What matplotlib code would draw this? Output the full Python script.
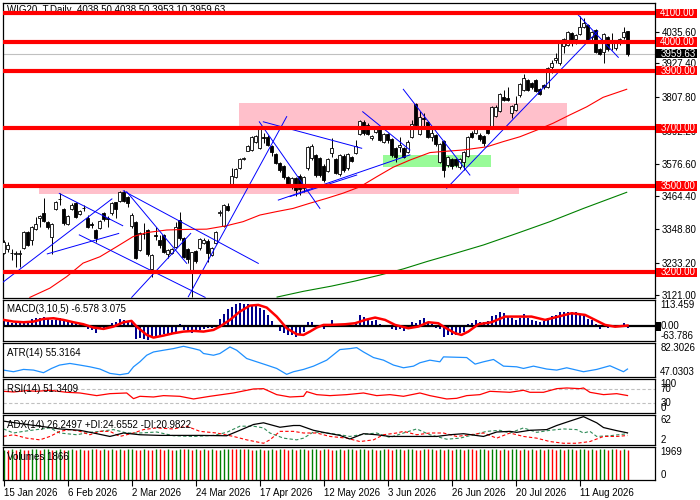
import matplotlib
matplotlib.use("Agg")
import matplotlib.pyplot as plt
from matplotlib.patches import Rectangle
import numpy as np

plt.rcParams['font.family'] = ['Liberation Sans', 'DejaVu Sans']
plt.rcParams['font.size'] = 7

# ---- daily candles WIG20_T ----
opens = [3266, 3280, 3268, 3263, 3265, 3283, 3341, 3312, 3351, 3388,
         3407, 3374, 3324, 3419, 3453, 3420, 3368, 3420, 3440, 3402,
         3423, 3388, 3367, 3347, 3353, 3405, 3387, 3405, 3443, 3449,
         3480, 3463, 3361, 3376, 3278, 3334, 3347, 3210, 3328, 3312,
         3328, 3264, 3268, 3289, 3382, 3318, 3280, 3199, 3273, 3283,
         3301, 3310, 3260, 3301, 3405, 3361, 3432, 3500, 3532, 3563,
         3595, 3623, 3625, 3652, 3633, 3670, 3671, 3639, 3611, 3579,
         3569, 3532, 3500, 3527, 3535, 3492, 3561, 3596, 3607, 3596,
         3570, 3553, 3614, 3593, 3542, 3605, 3561, 3600, 3614, 3681,
         3723, 3712, 3665, 3686, 3698, 3654, 3681, 3664, 3631, 3634,
         3631, 3619, 3669, 3785, 3681, 3735, 3723, 3669, 3677, 3584,
         3657, 3573, 3594, 3593, 3567, 3585, 3604, 3685, 3685, 3677,
         3674, 3698, 3703, 3743, 3762, 3810, 3807, 3752, 3764, 3816,
         3834, 3868, 3859, 3868, 3836, 3851, 3845, 3912, 3938, 3926,
         3986, 3990, 4033, 4010, 4028, 4054, 4059, 4017, 4042, 3975,
         3967, 4017, 4001, 3978, 3996, 4017, 4038.5]
highs = [3312, 3305, 3280, 3275, 3278, 3345, 3345, 3362, 3393, 3400,
         3457, 3380, 3370, 3447, 3475, 3425, 3400, 3440, 3445, 3418,
         3434, 3400, 3376, 3350, 3382, 3410, 3396, 3445, 3446, 3484,
         3486, 3466, 3405, 3380, 3340, 3370, 3350, 3264, 3359, 3329,
         3332, 3280, 3285, 3375, 3411, 3322, 3284, 3272, 3277, 3320,
         3318, 3314, 3287, 3345, 3417, 3437, 3440, 3561, 3562, 3598,
         3600, 3643, 3673, 3678, 3706, 3683, 3676, 3642, 3614, 3583,
         3572, 3536, 3531, 3531, 3540, 3535, 3638, 3645, 3610, 3600,
         3575, 3597, 3665, 3597, 3612, 3610, 3614, 3604, 3660, 3729,
         3729, 3718, 3676, 3710, 3702, 3685, 3685, 3668, 3635, 3671,
         3635, 3658, 3729, 3790, 3760, 3752, 3727, 3697, 3680, 3650,
         3660, 3604, 3598, 3597, 3597, 3623, 3675, 3690, 3710, 3683,
         3677, 3701, 3777, 3780, 3822, 3834, 3843, 3782, 3813, 3857,
         3889, 3872, 3863, 3872, 3840, 3855, 3912, 3938, 3961, 4001,
         4013, 4040, 4036, 4028, 4092, 4082, 4063, 4040, 4046, 3979,
         4032, 4020, 4030, 4005, 4015, 4054, 4038.5]
lows = [3262, 3270, 3243, 3218, 3220, 3280, 3290, 3295, 3348, 3359,
        3375, 3350, 3264, 3415, 3434, 3365, 3365, 3415, 3390, 3398,
        3414, 3355, 3355, 3307, 3350, 3380, 3359, 3400, 3388, 3445,
        3445, 3428, 3355, 3245, 3275, 3316, 3258, 3185, 3312, 3283,
        3268, 3249, 3262, 3285, 3312, 3248, 3231, 3115, 3231, 3278,
        3298, 3237, 3256, 3298, 3395, 3358, 3413, 3495, 3528, 3560,
        3590, 3620, 3620, 3648, 3628, 3648, 3638, 3605, 3575, 3548,
        3525, 3495, 3490, 3465, 3470, 3480, 3555, 3590, 3530, 3530,
        3515, 3548, 3602, 3540, 3535, 3548, 3555, 3582, 3610, 3678,
        3678, 3678, 3660, 3683, 3655, 3650, 3650, 3600, 3585, 3619,
        3596, 3615, 3665, 3708, 3678, 3706, 3665, 3655, 3640, 3580,
        3530, 3567, 3560, 3567, 3560, 3556, 3600, 3665, 3680, 3656,
        3640, 3680, 3700, 3740, 3757, 3795, 3795, 3735, 3760, 3810,
        3830, 3830, 3838, 3826, 3815, 3838, 3841, 3891, 3926, 3922,
        3961, 3986, 3986, 3995, 4024, 4050, 3997, 4005, 3961, 3955,
        3926, 3969, 3972, 3972, 3990, 4010, 3953.1]
closes = [3307, 3295, 3266, 3268, 3266, 3341, 3295, 3359, 3367, 3396,
          3380, 3357, 3367, 3443, 3455, 3370, 3396, 3434, 3393, 3414,
          3424, 3359, 3366, 3318, 3378, 3384, 3386, 3440, 3420, 3480,
          3449, 3440, 3399, 3249, 3336, 3333, 3263, 3260, 3327, 3295,
          3272, 3277, 3280, 3359, 3318, 3252, 3246, 3269, 3241, 3316,
          3313, 3266, 3283, 3341, 3409, 3434, 3417, 3535, 3558, 3595,
          3598, 3639, 3669, 3673, 3702, 3668, 3642, 3619, 3579, 3555,
          3530, 3500, 3527, 3486, 3488, 3530, 3634, 3639, 3538, 3538,
          3521, 3593, 3631, 3544, 3607, 3555, 3610, 3588, 3639, 3725,
          3683, 3681, 3673, 3706, 3660, 3681, 3660, 3608, 3602, 3642,
          3602, 3654, 3715, 3712, 3741, 3733, 3669, 3683, 3646, 3646,
          3556, 3600, 3570, 3573, 3593, 3619, 3671, 3671, 3706, 3662,
          3648, 3685, 3773, 3776, 3818, 3799, 3799, 3778, 3785, 3853,
          3874, 3834, 3843, 3831, 3820, 3843, 3909, 3926, 3944, 3998,
          4010, 4036, 4001, 4025, 4054, 4067, 4001, 4036, 3967, 3959,
          4028, 3975, 4007, 4001, 4010, 4036, 3959.63]
volumes = [1912, 1887, 1945, 1903, 1958, 1921, 1880, 1934, 1969, 1898,
           1927, 1941, 1889, 1915, 1950, 1876, 1908, 1937, 1893, 1962,
           1918, 1884, 1946, 1929, 1901, 1955, 1872, 1939, 1910, 1948,
           1895, 1923, 1960, 1906, 1881, 1944, 1917, 1890, 1952, 1928,
           1899, 1936, 1874, 1913, 1947, 1925, 1958, 1886, 1931, 1904,
           1942, 1919, 1951, 1878, 1909, 1933, 1966, 1945, 1927, 1954,
           1938, 1961, 1902, 1921, 1949, 1893, 1914, 1940, 1884, 1957,
           1925, 1890, 1943, 1911, 1932, 1956, 1904, 1937, 1962, 1918,
           1946, 1929, 1880, 1917, 1951, 1899, 1926, 1948, 1909, 1935,
           1958, 1921, 1944, 1897, 1913, 1950, 1928, 1886, 1939, 1964,
           1907, 1931, 1954, 1916, 1882, 1940, 1923, 1959, 1901, 1937,
           1918, 1952, 1889, 1930, 1947, 1911, 1961, 1934, 1895, 1926,
           1949, 1915, 1938, 1957, 1904, 1929, 1891, 1944, 1966, 1920,
           1933, 1898, 1953, 1922, 1940, 1907, 1955, 1928, 1884, 1946,
           1912, 1937, 1960, 1903, 1925, 1950, 1918, 1942, 1894, 1931,
           1955, 1910, 1943, 1926, 1899, 1948, 1866]

date_bars = [0, 16, 32, 48, 64, 80, 96, 112, 128, 144]
date_labels = ["15 Jan 2026", "6 Feb 2026", "2 Mar 2026", "24 Mar 2026", "17 Apr 2026",
               "12 May 2026", "3 Jun 2026", "26 Jun 2026", "20 Jul 2026", "11 Aug 2026"]

# levels, zones, moving averages, trend lines (chart objects)
levels = [4100, 4000, 3900, 3700, 3500, 3200]
last_price = 3959.63
price_ticks = [4035.60, 3927.40, 3807.80, 3692.20, 3576.60, 3464.40, 3348.80, 3233.20, 3121.00]

zone_bar0 = [58.9, 8.9, 94.9]
zone_bar1 = [140.9, 128.8, 121.8]
zone_low = [3700, 3473, 3567]
zone_high = [3789, 3500, 3607]
zone_color = ['#FFC0CB', '#FFC0CB', '#98FB98']

ma_fast_bars = [6.6, 11.6, 15.8, 19.9, 24.1, 28.3, 32.4, 35.8, 40.8, 45.8, 50.8, 55.8, 59.9, 64.1,
                68.3, 72.4, 76.6, 80.8, 84.9, 89.1, 93.3, 97.4, 101.6, 106.6, 109.1, 114.9, 120.8,
                124.9, 129.1, 133.3, 137.4, 141.6, 145.8, 149.9, 155.8]
ma_fast_vals = [3113, 3145, 3185, 3232, 3254, 3289, 3324, 3338, 3347, 3349, 3350, 3362, 3376, 3399,
                3411, 3422, 3440, 3457, 3475, 3497, 3532, 3565, 3590, 3616, 3619, 3625, 3636,
                3654, 3671, 3694, 3718, 3747, 3775, 3808, 3836]
ma_slow_bars = [68.4, 75, 82, 88, 94, 100, 106, 112, 120, 128.3, 136.6, 145, 155.8]
ma_slow_vals = [3114, 3134, 3152, 3170, 3190, 3212, 3238, 3262, 3295, 3335, 3376, 3422, 3478]

tl_bar0 = [-0.1, 13.95, 10.95, 18.95, 29.95, 30.8, 32.05, 46.2, 63.95, 64.95, 68.7, 71.6, 89.8, 99.95, 110.8, 143.7]
tl_price0 = [3166, 3474, 3264, 3330, 3483, 3480, 3113, 3115, 3723, 3723, 3451, 3463, 3758, 3836, 3492, 4094]
tl_bar1 = [27.1, 29.8, 28.8, 50.4, 63.7, 45.8, 46.8, 70.8, 79.1, 89.55, 101.6, 88.3, 101.6, 116.6, 148.6, 153.7]
tl_price1 = [3455, 3362, 3335, 3113, 3231, 3231, 3335, 3741, 3422, 3631, 3608, 3538, 3625, 3538, 4038, 3947]

# ---- indicators ----
macd_main = [27, 20, 13, 17, 17, 20, 20, 32, 35, 37,
             42, 32, 27, 27, 37, 27, 20, 23, 17, 13,
             9, -12, -16, -30, -13, -9, -6, 13, 17, 32,
             27, 23, 17, -55, -49, -55, -58, -52, -45, -37,
             -35, -37, -30, -23, 9, -16, -23, -29, -26, -16,
             -12, -9, -6, 6, 32, 52, 75, 85, 95, 99,
             95, 95, 92, 89, 81, 71, 49, 23, -1, -20,
             -30, -37, -40, -45, -35, -23, 17, 20, -1, 3,
             -12, 0, 26, 9, 6, 3, 6, 6, 20, 49,
             42, 27, 23, 27, 9, 6, 3, -12, -17, -12,
             -20, -9, 17, 13, 27, 35, 17, 9, -6, -12,
             -48, -40, -40, -37, -30, -23, 9, 13, 27, 20,
             20, 23, 46, 49, 60, 56, 46, 35, 27, 35,
             52, 37, 27, 23, 17, 23, 37, 46, 49, 60,
             60, 63, 63, 60, 52, 46, 32, 27, 9, -12,
             3, -6, 0, -1, 0, 13, -6.578]
macd_sig_bars = [0, 2.5, 5, 7.5, 10, 12.5, 15, 17.5, 20, 22.5, 25, 27.5, 30, 32, 33.3, 35.8, 37.5, 40,
                 42.5, 45, 47.5, 50, 52.5, 54.1, 56.6, 59.1, 61.6, 63.7, 65.8, 68.3, 70.8, 73.3, 75,
                 76.6, 78.3, 80, 81.6, 85.4, 87.9, 90.4, 92.9, 95.4, 97.9, 101.2, 103.7, 106.2, 108.7,
                 110.4, 112.9, 114.5, 116.2, 118.7, 122, 125.4, 128.7, 132, 135.4, 138.7, 142, 145.4,
                 147.9, 150.4, 152.9, 156]
macd_sig_vals = [27.4, 20.2, 17.3, 20.2, 31.7, 34.6, 27.4, 17.3, 8.6, -5.8, -11.5, -1.4, 17.3, 23.1,
                 -1.4, -37.5, -49.0, -40.3, -30.3, -23.1, -20.2, -23.1, -15.9, -1.4, 27.4, 63.4, 89.3,
                 92.2, 80.7, 41.8, -8.6, -34.6, -37.5, -23.1, -5.8, 5.8, 5.8, 8.6, 13.0, 27.4, 37.5,
                 27.4, 5.8, -8.6, -1.4, 17.3, 13.0, -5.8, -30.3, -37.5, -23.1, 8.6, 17.3, 41.8, 41.8,
                 41.8, 27.4, 41.8, 56.2, 49.0, 27.4, 5.8, -2.0, 3.075]

atr_bars = [0, 2.5, 5, 7.5, 10, 12, 14, 16.6, 19.1, 21.6, 24.1, 26.6, 29.1, 31.2, 32.5, 34.1, 35.8,
            37.5, 40, 42.5, 45, 47.5, 49.1, 50, 52.5, 54.1, 56.6, 58.3, 60.8, 63.3, 65.8, 68.3, 70.8,
            72.5, 75, 77.5, 80.8, 84.1, 86.6, 88.3, 90, 92.5, 95, 97.5, 100, 102.5, 104.1, 106.6,
            109.1, 110, 115.8, 117.9, 120, 122.5, 125, 128.3, 130, 132.5, 135.8, 138.3, 140.8, 145,
            148.3, 151.6, 155, 156]
atr_vals = [54.2, 52.5, 54.9, 54.2, 51.5, 55.9, 59.4, 61.1, 59.4, 57.6, 55.3, 50.8, 49.4, 50.8, 57.6,
            62.8, 69.6, 73.0, 74.8, 76.5, 78.9, 76.5, 74.8, 71.4, 69.6, 71.4, 78.2, 74.8, 66.2, 62.8,
            59.4, 55.9, 49.8, 52.5, 54.9, 58.3, 64.5, 75.5, 76.5, 77.5, 73.0, 67.2, 64.5, 59.4, 56.6,
            58.3, 61.8, 64.5, 62.8, 67.9, 67.2, 60.4, 62.8, 65.2, 58.3, 57.6, 55.9, 58.3, 55.3, 54.2,
            56.6, 52.5, 54.9, 58.7, 52.5, 55.3]

rsi_bars = [0, 2.5, 5.8, 8.3, 11.6, 15.8, 19.1, 23.3, 26.6, 30.8, 32.5, 34.1, 37.5, 40, 44.1, 47.5,
            51.6, 57.5, 62.5, 65, 68.3, 71.6, 75, 75.8, 78.3, 81.6, 85.8, 90, 93.3, 96.6, 100, 104.1,
            106.6, 110.8, 113.3, 115.8, 119.1, 121.6, 126.6, 130, 131.6, 135, 138.3, 140.8, 144.1,
            145, 146.6, 150, 153.3, 156]
rsi_vals = [63.8, 61.8, 65.8, 63.8, 66.8, 60.9, 58.9, 51.1, 56.9, 58.9, 42.2, 49.1, 47.1, 51.1, 49.1,
            41.3, 49.1, 58.9, 70.7, 71.6, 54.0, 47.1, 49.1, 62.8, 54.0, 51.1, 54.0, 58.9, 51.1, 54.0,
            49.1, 58.9, 51.1, 41.3, 43.2, 51.1, 54.0, 63.8, 60.9, 66.8, 60.9, 60.9, 71.6, 73.6, 71.6,
            73.6, 60.9, 54.0, 56.9, 51.34]

adx_bars = [0, 4.1, 9.1, 14.1, 19.1, 22.5, 26.6, 30, 34.1, 39.1, 44.1, 49.1, 55.8, 59.1, 62.5, 65,
            69.1, 72.5, 74.1, 77.5, 80.8, 84.1, 86.6, 90, 93.3, 96.6, 103.3, 108.3, 111.6, 115, 120,
            123.3, 126.6, 128.3, 131.6, 135.8, 138.3, 141.6, 145, 148.3, 150, 153.3, 156]
adx_vals = [49.8, 45.0, 39.6, 34.1, 31.4, 26.0, 19.1, 26.0, 22.5, 21.2, 21.2, 21.2, 20.5, 31.4, 43.0,
            46.4, 37.5, 41.0, 41.0, 31.4, 26.0, 21.2, 14.0, 24.6, 22.5, 19.1, 19.1, 19.1, 22.5, 24.6,
            19.1, 28.0, 29.3, 27.3, 31.4, 32.8, 41.0, 49.8, 58.7, 46.4, 36.9, 30.7, 26.25]
pdi_bars = [0, 2.5, 5, 8.3, 11.6, 14.1, 18.3, 21.6, 24.1, 27.5, 30.8, 34.1, 38.3, 42.5, 47.5, 52.5,
            55.8, 59.1, 62.5, 65, 66.6, 70, 73.3, 75, 77.5, 80.8, 84.1, 86.6, 89.1, 93.3, 96.6, 100,
            103.3, 106.6, 110.8, 114.1, 117.5, 120.8, 124.1, 126.6, 130, 133.3, 136.6, 140, 143.3,
            145, 146.6, 148.3, 151.6, 156]
pdi_vals = [34.1, 26.0, 29.3, 32.8, 36.2, 26.0, 22.5, 27.3, 29.3, 32.8, 26.0, 26.0, 28.0, 20.5, 19.1,
            21.2, 27.3, 39.6, 39.6, 36.2, 26.0, 15.7, 12.3, 15.7, 28.0, 26.0, 22.5, 19.1, 22.5, 26.0,
            17.1, 26.0, 34.1, 22.5, 13.6, 15.7, 22.5, 29.3, 31.4, 26.0, 36.2, 27.3, 31.4, 34.1, 32.8,
            26.0, 29.3, 19.1, 20.5, 24.66]
mdi_bars = [0, 2.5, 5.8, 9.1, 11.6, 14.1, 16.6, 19.1, 21.6, 24.1, 26.6, 29.1, 32.5, 35, 38.3, 42.5,
            45.8, 49.1, 53.3, 57.5, 60.8, 65, 66.6, 69.1, 72.5, 75, 78.3, 81.6, 85.8, 89.1, 92.5, 95,
            98.3, 100, 103.3, 106.6, 110, 113.3, 116.6, 120, 123.3, 126.6, 130, 133.3, 136.6, 140,
            143.3, 146.6, 150, 153.3, 156]
mdi_vals = [19.1, 22.5, 15.7, 12.3, 19.1, 29.3, 32.8, 29.3, 22.5, 29.3, 29.3, 19.1, 26.0, 32.8, 36.2,
            34.1, 39.6, 29.3, 26.0, 19.1, 12.3, 5.5, 12.3, 29.3, 29.3, 26.0, 26.0, 19.1, 15.7, 8.9,
            12.3, 22.5, 26.0, 29.3, 22.5, 26.0, 26.0, 19.1, 22.5, 26.0, 15.7, 26.0, 19.1, 15.7, 8.9,
            5.5, 5.5, 8.9, 19.1, 19.1, 20.98]

o = np.array(opens, float)
h = np.array(highs, float)
l = np.array(lows, float)
c = np.array(closes, float)
x = np.arange(len(c))

fig = plt.figure(figsize=(7, 5), dpi=100)
fig.patch.set_facecolor('white')


def panel(top, bottom):
    a = fig.add_axes([3 / 700, 1 - bottom / 500, 652 / 700, (bottom - top) / 500])
    a.set_xlim(-0.125, 162.875)
    for s in a.spines.values():
        s.set_linewidth(0.9)
        s.set_color('black')
    a.tick_params(axis='x', bottom=False, labelbottom=False)
    a.tick_params(axis='y', left=False, labelleft=False, right=False, labelright=False)
    return a


def side(a, y, s, va='center', **kw):
    a.text(1.008, y, s, transform=a.get_yaxis_transform(), ha='left', va=va,
           fontsize=7, clip_on=False, **kw)


def title(a, hpx, s):
    a.text(0.006, 1 - 9.5 / hpx, s, transform=a.transAxes, ha='left', va='center',
           fontsize=7, zorder=20)


# ---- main price panel ----
ax = panel(3, 298)
ax.set_ylim(3110.7, 4135.8)
for b0, b1, lo, hi, col in zip(zone_bar0, zone_bar1, zone_low, zone_high, zone_color):
    ax.add_patch(Rectangle((b0, lo), b1 - b0, hi - lo, facecolor=col, edgecolor='none', zorder=1))
ax.text(0.006, 1 - 7 / 295, "WIG20_T,Daily  4038.50 4038.50 3953.10 3959.63",
        transform=ax.transAxes, ha='left', va='center', fontsize=7, zorder=2)
ax.axhline(last_price, color='#C0C0C0', lw=0.8, zorder=2)
up = c >= o
ax.vlines(x, l, h, color='black', lw=0.7, zorder=3)
ax.bar(x, np.abs(c - o), bottom=np.minimum(o, c), width=0.55,
       color=np.where(up, 'white', 'black'), edgecolor='black', linewidth=0.6, zorder=4)
ax.plot(ma_fast_bars, ma_fast_vals, color='red', lw=0.8, zorder=5)
ax.plot(ma_slow_bars, ma_slow_vals, color='green', lw=0.8, zorder=5)
for b0, p0, b1, p1 in zip(tl_bar0, tl_price0, tl_bar1, tl_price1):
    ax.plot([b0, b1], [p0, p1], color='blue', lw=0.7, zorder=6)
for lv in levels:
    ax.axhline(lv, color='red', lw=3, zorder=7)

ax.yaxis.tick_right()
ax.set_yticks(price_ticks)
ax.set_yticklabels(["%.2f" % v for v in price_ticks])
ax.tick_params(axis='y', right=True, labelright=True, length=3, width=0.8, pad=2, labelsize=7)

ytr = ax.get_yaxis_transform()
for lv in levels:
    ax.add_patch(Rectangle((1.002, lv - 16), 0.062, 32, transform=ytr, facecolor='red',
                           edgecolor='none', clip_on=False, zorder=10))
    ax.text(1.008, lv, "%.2f" % lv, transform=ytr, ha='left', va='center', fontsize=7,
            color='white', clip_on=False, zorder=11)
ax.add_patch(Rectangle((1.002, last_price - 15), 0.062, 30, transform=ytr, facecolor='black',
                       edgecolor='none', clip_on=False, zorder=10))
ax.text(1.008, last_price, "%.2f" % last_price, transform=ytr, ha='left', va='center',
        fontsize=7, color='white', clip_on=False, zorder=11)

# ---- MACD ----
am = panel(300, 341)
am.set_ylim(-63.786, 113.459)
am.bar(x, macd_main, width=0.5, color='#00008B', zorder=2)
am.axhline(0, color='black', lw=1.6, zorder=3)
am.plot(macd_sig_bars, macd_sig_vals, color='red', lw=1.8, zorder=4)
title(am, 41, "MACD(3,10,5) -6.578 3.075")
side(am, 113.459, "113.459", va='top')
side(am, -63.786, "-63.786", va='bottom')
am.add_patch(Rectangle((1.001, -20), 0.008, 40, transform=am.get_yaxis_transform(),
                       facecolor='black', edgecolor='none', clip_on=False, zorder=10))
side(am, 0, "0.00", zorder=11)

# ---- ATR ----
aa = panel(343, 377)
aa.set_ylim(47.0303, 82.3026)
aa.plot(atr_bars, atr_vals, color='#1E90FF', lw=0.9)
title(aa, 34, "ATR(14) 55.3164")
side(aa, 82.3026, "82.3026", va='top')
side(aa, 47.0303, "47.0303", va='bottom')

# ---- RSI ----
ar = panel(379, 413)
ar.set_ylim(0, 100)
for lv in (70, 30):
    ar.axhline(lv, color='#C0C0C0', lw=0.8, ls=(0, (3, 2)))
ar.plot(rsi_bars, rsi_vals, color='red', lw=0.9)
title(ar, 34, "RSI(14) 51.3409")
side(ar, 100, "100", va='top')
side(ar, 70, "70")
side(ar, 30, "30")
side(ar, 0, "0", va='bottom')

# ---- ADX ----
ad = panel(415, 445)
ad.set_ylim(2, 62)
ad.plot(pdi_bars, pdi_vals, color='#2E8B57', lw=0.8, ls=(0, (3, 2)))
ad.plot(mdi_bars, mdi_vals, color='red', lw=0.8, ls=(0, (3, 2)))
ad.plot(adx_bars, adx_vals, color='black', lw=0.9)
title(ad, 30, "ADX(14) 26.2497 +DI:24.6552 -DI:20.9822")
side(ad, 62, "62", va='top')
side(ad, 2, "2", va='bottom')

# ---- Volumes ----
av = panel(447, 480)
av.set_ylim(0, 2080)
vol = np.array(volumes, float)
vcol = ['green'] + ['green' if vol[i] > vol[i - 1] else 'red' for i in range(1, len(vol))]
av.vlines(x, 0, vol, colors=vcol, lw=1.0, zorder=2)
title(av, 33, "Volumes 1866")
side(av, 2080, "1969", va='top')
side(av, 0, "0", va='bottom')
av.set_xticks(date_bars)
av.set_xticklabels(date_labels, ha='left')
av.tick_params(axis='x', bottom=True, labelbottom=True, length=4, width=0.8, pad=2, labelsize=7)

fig.savefig("out.png", dpi=100, facecolor='white')
